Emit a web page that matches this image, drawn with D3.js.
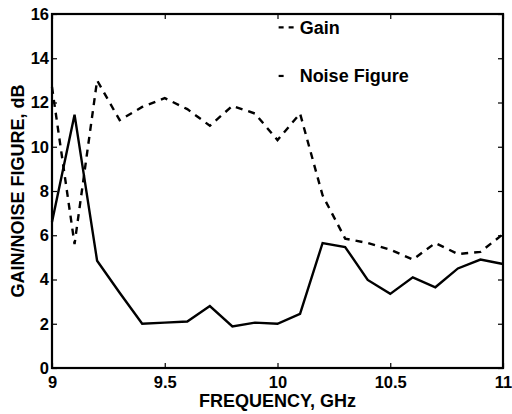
<!DOCTYPE html>
<html>
<head>
<meta charset="utf-8">
<script src="https://cdn.jsdelivr.net/npm/d3@7"></script>
<style>
  body { margin:0; background:#fff; }
  text { font-family: "Liberation Sans", Arial, sans-serif; font-weight:bold; fill:#000; }
</style>
</head>
<body>
<div id="chart"></div>
<script>
// -------------------- DATA --------------------
const freq = [9.0,9.1,9.2,9.3,9.4,9.5,9.6,9.7,9.8,9.9,10.0,10.1,10.2,10.3,10.4,10.5,10.6,10.7,10.8,10.9,11.0];
const gain = [12.7,5.6,13.0,11.2,11.8,12.2,11.7,10.95,11.85,11.5,10.3,11.5,7.8,5.85,5.65,5.35,4.9,5.65,5.15,5.25,6.05];
const noiseFig = [6.6,11.45,4.85,3.4,2.0,2.05,2.1,2.8,1.88,2.05,2.0,2.45,5.65,5.47,3.98,3.35,4.1,3.65,4.5,4.9,4.7];
const xTicks = [9, 9.5, 10, 10.5, 11];
const yTicks = [0, 2, 4, 6, 8, 10, 12, 14, 16];

const W = 512, H = 414;
const margin = { top: 14, right: 9, bottom: 46, left: 52 };
const width = W - margin.left - margin.right;
const height = H - margin.top - margin.bottom;

const svg = d3.select("#chart").append("svg")
  .attr("width", W).attr("height", H);

const g = svg.append("g")
  .attr("transform", `translate(${margin.left},${margin.top})`);

const x = d3.scaleLinear().domain([9, 11]).range([0, width]);
const y = d3.scaleLinear().domain([0, 16]).range([height, 0]);

// axes, ticks pointing inward
const fmt = d => d3.format("")(d);
g.append("g").attr("transform", `translate(0,${height})`)
  .call(d3.axisBottom(x).tickValues(xTicks).tickSizeInner(-5).tickSizeOuter(0).tickPadding(8).tickFormat(fmt))
  .call(s => s.select(".domain").remove())
  .selectAll("text").attr("font-size", 16.5).attr("dy", "0.75em");
g.append("g")
  .call(d3.axisTop(x).tickValues(xTicks).tickSizeInner(-5).tickSizeOuter(0).tickFormat(""))
  .call(s => s.select(".domain").remove());
g.append("g")
  .call(d3.axisLeft(y).tickValues(yTicks).tickSizeInner(-5).tickSizeOuter(0).tickPadding(3))
  .call(s => s.select(".domain").remove())
  .selectAll("text").attr("font-size", 16.5);
g.append("g").attr("transform", `translate(${width},0)`)
  .call(d3.axisRight(y).tickValues(yTicks).tickSizeInner(-5).tickSizeOuter(0).tickFormat(""))
  .call(s => s.select(".domain").remove());
g.selectAll(".tick line").attr("stroke", "#000").attr("stroke-width", 1.2);

g.append("rect").attr("width", width).attr("height", height)
  .attr("fill", "none").attr("stroke", "#000").attr("stroke-width", 2.2);

// lines
const line = d3.line().x((d, i) => x(freq[i])).y(d => y(d));
g.append("path").datum(gain)
  .attr("fill", "none").attr("stroke", "#000").attr("stroke-width", 2.4)
  .attr("stroke-dasharray", "7,6").attr("d", line);
g.append("path").datum(noiseFig)
  .attr("fill", "none").attr("stroke", "#000").attr("stroke-width", 2.4)
  .attr("d", line);

// legend
const leg = g.append("g").attr("transform", `translate(${x(10.005)},0)`);
leg.append("line").attr("x1", 0).attr("x2", 16).attr("y1", y(15.4)).attr("y2", y(15.4))
  .attr("stroke", "#000").attr("stroke-width", 2.2).attr("stroke-dasharray", "5,5");
leg.append("text").attr("x", 21).attr("y", y(15.4)).attr("dy", "0.36em")
  .attr("font-size", 18).text("Gain");
leg.append("line").attr("x1", 0).attr("x2", 5).attr("y1", y(13.2)).attr("y2", y(13.2))
  .attr("stroke", "#000").attr("stroke-width", 2.2);
leg.append("text").attr("x", 21).attr("y", y(13.2)).attr("dy", "0.36em")
  .attr("font-size", 18).text("Noise Figure");

// axis titles
svg.append("text").attr("x", margin.left + width / 2).attr("y", 407)
  .attr("text-anchor", "middle").attr("font-size", 18).text("FREQUENCY, GHz");
svg.append("text")
  .attr("transform", `translate(18,${margin.top + height / 2}) rotate(-90)`)
  .attr("text-anchor", "middle").attr("dy", "0.36em").attr("font-size", 18)
  .text("GAIN/NOISE FIGURE, dB");
</script>
</body>
</html>
